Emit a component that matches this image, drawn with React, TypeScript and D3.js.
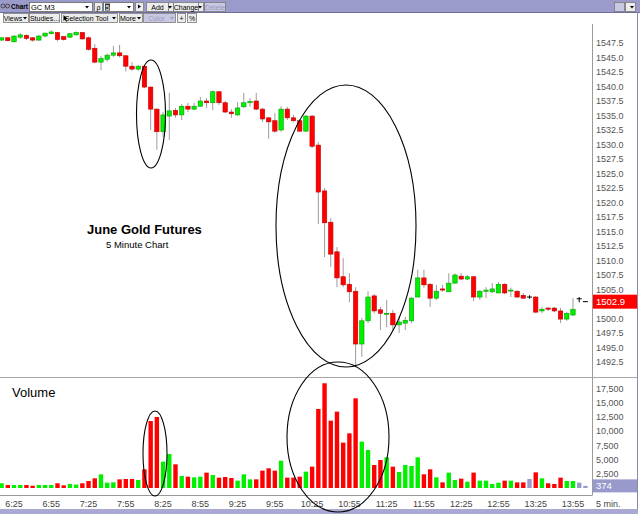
import * as d3 from "d3";

// candle values, 5 minute bars from 6:15 to 14:05
const opens = [
	1548.0, 1548.4, 1547.7, 1548.5, 1548.8, 1548.4, 1548.0, 1548.7, 1549.1, 1549.3,
	1548.6, 1548.5, 1548.9, 1549.3, 1548.4, 1546.6, 1544.2, 1544.7, 1545.4, 1545.8,
	1545.3, 1543.5, 1543.0, 1543.5, 1539.9, 1536.1, 1532.2, 1534.9, 1535.9, 1535.1,
	1536.6, 1536.1, 1536.6, 1537.5, 1537.2, 1539.1, 1537.2, 1535.6, 1535.1, 1536.5,
	1537.2, 1537.5, 1536.1, 1534.6, 1534.1, 1532.5, 1536.1, 1534.6, 1534.1, 1532.3,
	1534.9, 1529.9, 1522.0, 1516.6, 1511.5, 1507.2, 1505.9, 1504.7, 1495.6, 1499.6,
	1503.9, 1501.5, 1500.8, 1500.9, 1498.9, 1499.2, 1499.6, 1503.7, 1507.0, 1505.9,
	1503.5, 1505.1, 1504.6, 1506.1, 1507.3, 1506.8, 1507.2, 1503.7, 1504.7, 1504.6,
	1504.4, 1505.9, 1504.8, 1504.7, 1504.0, 1503.7, 1503.7, 1501.3, 1501.8, 1501.8,
	1501.3, 1499.9, 1500.6, 1503.4, 1502.9,
];
const highs = [
	1548.5, 1548.5, 1548.8, 1549.2, 1549.0, 1548.5, 1548.9, 1549.3, 1549.7, 1549.4,
	1548.7, 1549.2, 1549.5, 1549.4, 1548.6, 1547.3, 1545.3, 1545.7, 1547.0, 1547.2,
	1545.4, 1544.2, 1543.7, 1543.6, 1540.0, 1536.2, 1535.6, 1538.9, 1536.3, 1537.0,
	1537.2, 1537.2, 1538.2, 1538.0, 1539.3, 1539.2, 1537.5, 1536.1, 1537.3, 1538.9,
	1538.0, 1538.9, 1536.3, 1534.7, 1535.4, 1536.6, 1536.5, 1535.1, 1534.4, 1535.1,
	1535.1, 1530.4, 1522.5, 1517.3, 1512.3, 1510.4, 1507.8, 1505.4, 1500.1, 1504.7,
	1504.2, 1502.0, 1503.2, 1501.5, 1500.3, 1500.3, 1503.7, 1508.4, 1508.4, 1506.1,
	1505.8, 1505.8, 1507.8, 1507.8, 1507.8, 1507.5, 1507.3, 1504.9, 1505.4, 1506.1,
	1506.3, 1506.1, 1505.3, 1504.9, 1504.4, 1504.0, 1503.9, 1502.0, 1502.0, 1502.0,
	1501.8, 1501.1, 1503.5, 1503.7, 1503.0,
];
const lows = [
	1547.9, 1547.8, 1547.6, 1548.2, 1548.0, 1547.7, 1547.9, 1548.5, 1549.0, 1547.8,
	1547.9, 1548.4, 1548.8, 1548.1, 1546.2, 1544.0, 1542.8, 1544.3, 1545.1, 1545.0,
	1542.6, 1542.7, 1542.7, 1539.7, 1532.5, 1529.1, 1531.3, 1530.8, 1534.6, 1534.2,
	1535.6, 1535.9, 1536.5, 1536.3, 1535.9, 1536.8, 1535.4, 1534.6, 1534.9, 1536.3,
	1536.5, 1535.9, 1533.9, 1531.0, 1532.0, 1532.2, 1534.2, 1533.9, 1532.2, 1532.2,
	1529.4, 1516.3, 1510.6, 1508.9, 1505.4, 1505.4, 1502.8, 1491.6, 1493.4, 1499.2,
	1500.9, 1498.0, 1498.5, 1498.0, 1497.5, 1498.0, 1499.2, 1503.7, 1505.3, 1502.0,
	1503.2, 1504.6, 1504.6, 1506.0, 1506.6, 1506.6, 1503.0, 1503.2, 1503.5, 1504.4,
	1504.4, 1504.2, 1503.7, 1503.5, 1503.4, 1503.4, 1500.9, 1500.9, 1501.3, 1501.1,
	1499.2, 1499.6, 1500.4, 1502.8, 1502.9,
];
const closes = [
	1548.4, 1547.9, 1548.7, 1548.9, 1548.3, 1548.0, 1548.7, 1549.2, 1549.4, 1548.1,
	1548.1, 1549.1, 1549.3, 1548.2, 1546.4, 1544.2, 1544.8, 1545.4, 1545.8, 1545.3,
	1543.5, 1543.0, 1543.5, 1539.9, 1536.1, 1532.2, 1535.1, 1535.8, 1535.1, 1536.6,
	1536.1, 1536.6, 1537.5, 1537.2, 1539.1, 1537.2, 1535.6, 1535.3, 1536.3, 1537.2,
	1537.4, 1536.1, 1534.4, 1533.9, 1532.3, 1536.1, 1534.6, 1534.1, 1532.3, 1534.9,
	1529.7, 1521.8, 1516.5, 1511.1, 1507.0, 1505.8, 1504.6, 1495.6, 1499.6, 1503.7,
	1501.3, 1500.9, 1500.9, 1498.9, 1499.4, 1499.7, 1503.5, 1507.0, 1505.8, 1503.5,
	1504.7, 1504.9, 1506.1, 1507.5, 1506.8, 1507.2, 1503.7, 1504.7, 1504.9, 1505.1,
	1505.9, 1504.4, 1504.9, 1503.7, 1503.5, 1503.7, 1501.1, 1501.6, 1501.6, 1501.3,
	1499.9, 1500.9, 1501.6, 1503.4, 1502.9,
];
const volumes = [
	830, 530, 530, 530, 530, 400, 530, 530, 530, 830,
	470, 700, 600, 830, 1230, 1700, 2400, 940, 1000, 1520,
	1580, 1580, 1400, 3280, 11770, 12480, 4630, 5970, 4160, 2100,
	1990, 1870, 1990, 2700, 2280, 1820, 1930, 1760, 1290, 2400,
	1520, 1520, 3050, 3460, 3050, 4800, 1820, 1820, 1990, 2870,
	3750, 13890, 18400, 11830, 13420, 7970, 9610, 15760, 8150, 6680,
	4040, 4920, 5390, 3750, 2810, 4040, 3870, 5390, 2400, 3280,
	1870, 990, 2700, 1400, 1640, 1110, 2700, 1290, 1290, 700,
	940, 1290, 1290, 990, 990, 1580, 2750, 1700, 830, 700,
	1820, 1230, 1230, 940, 374,
];
const timeLabels = ["6:25", "6:55", "7:25", "7:55", "8:25", "8:55", "9:25", "9:55", "10:25", "10:55", "11:25", "11:55", "12:25", "12:55", "13:25", "13:55"];
const timeLabelIndex = [2, 8, 14, 20, 26, 32, 38, 44, 50, 56, 62, 68, 74, 80, 86, 92];
const priceTicks = [1547.5, 1545.0, 1542.5, 1540.0, 1537.5, 1535.0, 1532.5, 1530.0, 1527.5, 1525.0, 1522.5, 1520.0, 1517.5, 1515.0, 1512.5, 1510.0, 1507.5, 1505.0, 1502.5, 1500.0, 1497.5, 1495.0, 1492.5];
const volumeTicks = [2500, 5000, 7500, 10000, 12500, 15000, 17500];
const lastPrice = 1502.9;
const lastVolume = 374;

const RED = "#ff0000";
const GREEN = "#00f000";
const FLAT = "#9999cc";
const FONT = "'Liberation Sans', Arial, sans-serif";

const x = d3.scaleLinear().domain([0, 94]).range([1.6, 585.4]);
const yPrice = d3.scaleLinear().domain([1492.5, 1547.5]).range([362, 43]);
const yVol = d3.scaleLinear().domain([0, 17500]).range([488, 388.4]);

// toolbar button; the little drop arrow is a path, not a glyph
function Button(props: { x: number; y: number; w: number; label: string; disabled?: boolean; drop?: boolean }) {
	const { x: bx, y: by, w, label, disabled, drop } = props;
	const textW = drop ? w - 6 : w;
	return (
		<g>
			<rect x={bx + 0.5} y={by + 0.5} width={w} height={9} fill={disabled ? "#c8c8e4" : "#ececec"} stroke="#7a7a7a" strokeWidth={0.8} />
			{label && (
				<text x={bx + textW / 2 + 0.5} y={by + 8} fontSize={7} textAnchor="middle" fill={disabled ? "#9a9ab8" : "#000"} fontFamily={FONT}>
					{label}
				</text>
			)}
			{drop && <path d={`M${bx + w - 5},${by + 4}h4l-2,2.5z`} fill={disabled ? "#9a9ab8" : "#000"} />}
		</g>
	);
}

function Toolbar() {
	return (
		<g>
			<rect x={0} y={0} width={640} height={12} fill="#9b9bcb" />
			<line x1={0} x2={640} y1={12.5} y2={12.5} stroke="#6f6f9f" />
			<circle cx={3} cy={6} r={2} fill="none" stroke="#333" strokeWidth={0.8} />
			<circle cx={7.5} cy={6} r={2} fill="none" stroke="#333" strokeWidth={0.8} />
			<text x={11} y={9} fontSize={7.5} fontWeight="bold" fill="#000" fontFamily={FONT} textLength={17} lengthAdjust="spacingAndGlyphs">Chart</text>
			<rect x={29.5} y={2.5} width={63} height={9} fill="#fff" stroke="#666" strokeWidth={0.8} />
			<text x={31} y={10} fontSize={7.5} fill="#000" fontFamily={FONT}>GC M3</text>
			<path d="M85,6h4l-2,2.5z" fill="#000" />
			<Button x={94} y={2} w={8} label="ρ" />
			<rect x={103.5} y={2.5} width={30} height={9} fill="#fff" stroke="#666" strokeWidth={0.8} />
			<rect x={105} y={3.5} width={5} height={7} fill="#333" />
			<text x={105.5} y={10} fontSize={7.5} fill="#fff" fontFamily={FONT}>5</text>
			<path d="M127,6h4l-2,2.5z" fill="#000" />
			<Button x={135} y={2} w={8} label="" />
			<path d="M138,4.5v4l3,-2z" fill="#000" />
			<Button x={146} y={2} w={22} label="Add" />
			<Button x={168} y={2} w={5} label="" drop />
			<Button x={173} y={2} w={25} label="Change" />
			<Button x={198} y={2} w={5} label="" drop />
			<Button x={204} y={2} w={21} label="Delete" disabled />
			<Button x={614} y={2} w={10} label="" disabled />
			<Button x={625} y={2} w={10} label="" drop />
			<rect x={0} y={13} width={640} height={11} fill="#fff" />
			<Button x={3} y={13} w={25} label="Views" drop />
			<Button x={29} y={13} w={30} label="Studies..." />
			<Button x={61} y={13} w={56} label="Selection Tool" drop />
			<path d="M63.5,15v6l1.5,-1.5l1.2,2.2l0.8,-0.5l-1.2,-2.1h2z" fill="#000" />
			<Button x={119} y={13} w={23} label="More" drop />
			<Button x={143} y={13} w={32} label="Color" disabled drop />
			<Button x={177} y={13} w={8} label="+" />
			<Button x={187} y={13} w={9} label="%" />
		</g>
	);
}

function colorOf(i: number) {
	if (closes[i] > opens[i]) return GREEN;
	if (closes[i] < opens[i]) return RED;
	return FLAT;
}

export default function App() {
	const bw = 4.4;
	const lastY = yPrice(lastPrice);
	return (
		<svg width={640} height={514} style={{ position: "absolute", left: 0, top: 0, background: "#fff" }} fontFamily={FONT}>
			<rect width={640} height={514} fill="#fff" />
			<Toolbar />

			{/* panel frames */}
			<line x1={592.5} x2={592.5} y1={24} y2={495} stroke="#9a9a9a" />
			<line x1={0} x2={637} y1={377.5} y2={377.5} stroke="#a8a8a8" />
			<line x1={0} x2={592.5} y1={495.5} y2={495.5} stroke="#9a9a9a" />
			<line x1={637.5} x2={637.5} y1={12} y2={514} stroke="#8a8aaa" />
			<rect x={0} y={509} width={638} height={5} fill="#a9a9d3" />

			{/* candles */}
			{opens.map((o, i) => {
				const c = closes[i];
				const flat = o === c;
				const col = colorOf(i);
				const top = yPrice(Math.max(o, c));
				const bot = yPrice(Math.min(o, c));
				return (
					<g key={i}>
						<line x1={x(i)} x2={x(i)} y1={yPrice(highs[i])} y2={yPrice(lows[i])} stroke={flat ? "#000" : "#9c9c9c"} strokeWidth={1} />
						{flat ? (
							<line x1={x(i) - 2.5} x2={x(i) + 2.5} y1={top} y2={top} stroke="#000" strokeWidth={1} />
						) : (
							<rect
								x={x(i) - bw / 2}
								y={top}
								width={bw}
								height={Math.max(1, bot - top)}
								fill={col}
								stroke={col === RED ? "#c00000" : "#00a000"}
								strokeWidth={0.6}
							/>
						)}
					</g>
				);
			})}

			{/* volume bars */}
			{volumes.map((v, i) => (
				<rect key={i} x={x(i) - bw / 2} y={yVol(v)} width={bw} height={yVol(0) - yVol(v)} fill={colorOf(i)} />
			))}

			{/* price axis; the last-price box hides the tick under it */}
			{priceTicks
				.filter((p) => Math.abs(yPrice(p) - lastY) > 8)
				.map((p) => (
					<text key={p} x={596} y={yPrice(p) + 3.2} fontSize={9} fill="#555">
						{p.toFixed(1)}
					</text>
				))}
			<rect x={593} y={lastY - 7} width={44} height={14} fill={RED} />
			<text x={596} y={lastY + 3.5} fontSize={9.5} fill="#fff">
				{lastPrice.toFixed(1)}
			</text>

			{/* volume axis */}
			{volumeTicks.map((v) => (
				<text key={v} x={596} y={yVol(v) + 3.2} fontSize={9} fill="#555">
					{d3.format(",")(v)}
				</text>
			))}
			<rect x={593} y={yVol(lastVolume) - 6.5} width={44} height={13} fill={FLAT} />
			<text x={596} y={yVol(lastVolume) + 3.5} fontSize={9.5} fill="#fff">
				{lastVolume}
			</text>

			{/* time axis */}
			{timeLabels.map((t, k) => (
				<text key={t} x={x(timeLabelIndex[k])} y={506.5} fontSize={9} fill="#444" textAnchor="middle">
					{t}
				</text>
			))}
			<text x={596} y={506.5} fontSize={9} fill="#444">5 min.</text>

			{/* annotations */}
			<text x={87} y={234} fontSize={13} fontWeight="bold" fill="#000">June Gold Futures</text>
			<text x={106} y={248} fontSize={9.5} fill="#000">5 Minute Chart</text>
			<text x={12} y={397} fontSize={13} fill="#000">Volume</text>
			<ellipse cx={151} cy={114} rx={14.5} ry={54} fill="none" stroke="#000" strokeWidth={1.1} />
			<ellipse cx={346} cy={226} rx={70} ry={141} fill="none" stroke="#000" strokeWidth={1.1} />
			<ellipse cx={155} cy={453.5} rx={12} ry={42.5} fill="none" stroke="#000" strokeWidth={1.1} />
			<ellipse cx={338} cy={437} rx={51} ry={75} fill="none" stroke="#000" strokeWidth={1.1} />
		</svg>
	);
}
